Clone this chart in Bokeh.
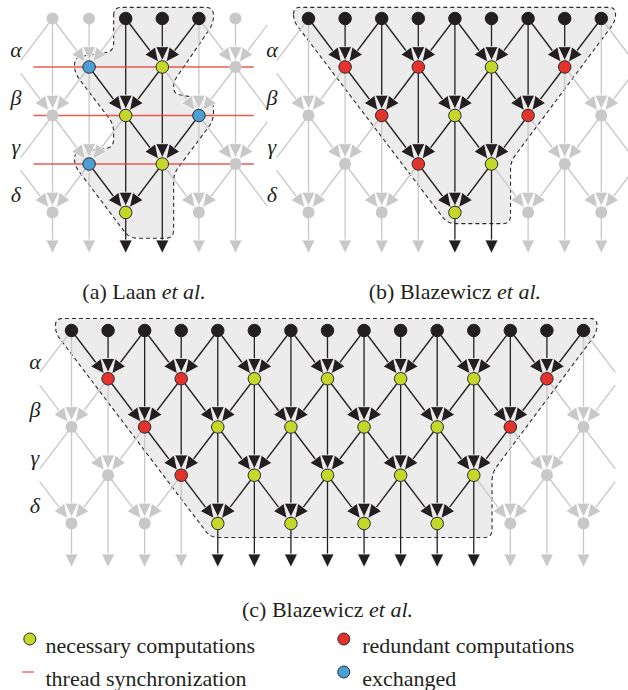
import numpy as np
from bokeh.plotting import figure
from bokeh.models import Range1d
from bokeh.embed import file_html
from bokeh.resources import INLINE
from bokeh.core.properties import value

# ---------------- data ----------------
STAGE_LABELS = ["α", "β", "γ", "δ"]

# K = input value, N = necessary computation, R = redundant computation,
# E = exchanged value, - = not used by the thread (grey)
# row 0 lists every column; rows 1-4 list only the columns of that row's lattice
A_NODES = ["--KKK-", "EN-", "-NE", "EN-", "-N-"]
A_OUTPUTS = "--XX--"
A_SYNC_ROWS = [1, 2, 3]

B_NODES = ["KKKKKKKKK", "RRNR", "-RNR-", "-RN-", "--N--"]
B_OUTPUTS = "----XX---"
B_SYNC_ROWS = []

C_NODES = ["KKKKKKKKKKKKKKK", "RRNNNNR", "-RNNNNR-", "-RNNNN-", "--NNNN--"]
C_OUTPUTS = "----XXXXXXXX---"
C_SYNC_ROWS = []

CAPTIONS = [("(a) Laan ", "et al."), ("(b) Blazewicz ", "et al."), ("(c) Blazewicz ", "et al.")]

LEGEND_LABELS = ["necessary computations", "redundant computations",
                 "thread synchronization", "exchanged"]
LEGEND_KINDS = ["N", "R", "S", "E"]

# ---------------- style / layout ----------------
COLORS = {"K": "#231f20", "N": "#c5d82a", "R": "#e3332c", "E": "#4b9fd6", "-": "#c8c8c8"}
GRAY = "#c8c8c8"
BLACK = "#231f20"
SYNC = "#e8473f"
FILL = "#ececec"
TXT = "#231f20"
FONT = "Liberation Serif"
FS = 22

# shaded regions in lattice units (column, row)
A_REGION = [(1.67, -0.23), (4.4, -0.23), (4.4, 0.1), (3.31, 1.3), (3.31, 1.55), (4.4, 1.7),
            (4.4, 2.1), (3.31, 3.2), (3.31, 4.53), (2.1, 4.53), (0.6, 3.03), (0.6, 2.76),
            (1.67, 2.66), (1.67, 2.18), (0.6, 1.12), (0.6, 0.8), (1.67, 0.68)]
B_REGION = [(-0.41, -0.23), (8.39, -0.23), (8.39, 0.05), (5.52, 2.95), (5.52, 4.23),
            (3.8, 4.23), (-0.41, 0.05)]
C_REGION = [(-0.44, -0.25), (14.37, -0.25), (14.37, 0.04), (11.5, 2.95), (11.5, 4.29),
            (3.8, 4.29), (-0.44, 0.05)]

PANELS = [
    dict(nodes=A_NODES, outputs=A_OUTPUTS, sync=A_SYNC_ROWS, region=A_REGION, cap=CAPTIONS[0],
         x0=52.0, y0=18.0, dx=36.6, dy=48.5, y_out=253.0, cap_y=291.0),
    dict(nodes=B_NODES, outputs=B_OUTPUTS, sync=B_SYNC_ROWS, region=B_REGION, cap=CAPTIONS[1],
         x0=308.0, y0=18.0, dx=36.6, dy=48.5, y_out=253.0, cap_y=291.0),
    dict(nodes=C_NODES, outputs=C_OUTPUTS, sync=C_SYNC_ROWS, region=C_REGION, cap=CAPTIONS[2],
         x0=71.0, y0=330.0, dx=36.57, dy=48.25, y_out=567.0, cap_y=609.0),
]

R_TIP = 6.3     # distance of arrow tip from node centre
HL, HW = 14.0, 6.6
HL_OUT, HW_OUT = 13.5, 6.6
PARTIAL = 0.87

REG_W = {'(': .333, ')': .333, ' ': .25, 'a': .444, 'b': .5, 'c': .444, 'L': .611, 'n': .5,
         'B': .667, 'l': .278, 'z': .444, 'e': .444, 'w': .722, 'i': .278}
IT_W = {'e': .444, 't': .278, ' ': .25, 'a': .5, 'l': .278, '.': .25}


def tw(s, table):
    return sum(table.get(ch, .5) for ch in s) * FS


def rounded(pts, rad=8.0, n=7):
    out = []
    m = len(pts)
    for i in range(m):
        p0 = np.array(pts[i - 1], float)
        p1 = np.array(pts[i], float)
        p2 = np.array(pts[(i + 1) % m], float)
        v1, v2 = p0 - p1, p2 - p1
        l1, l2 = np.hypot(*v1), np.hypot(*v2)
        d = min(rad, l1 / 2, l2 / 2)
        a = p1 + v1 / l1 * d
        b = p1 + v2 / l2 * d
        for t in np.linspace(0, 1, n):
            out.append((1 - t) ** 2 * a + 2 * (1 - t) * t * p1 + t ** 2 * b)
    return [q[0] for q in out], [q[1] for q in out]


def head(tip, u, hl, hw):
    base = tip - u * hl
    nv = np.array([-u[1], u[0]])
    c1 = base + nv * hw
    c2 = base - nv * hw
    return [tip[0], c1[0], c2[0]], [tip[1], c1[1], c2[1]], base


layers = {k: {"lx": [], "ly": [], "hx": [], "hy": []} for k in ("g", "k")}
regions_x, regions_y = [], []
sync_x, sync_y = [], []
nodes_by_cat = {k: ([], []) for k in COLORS}
labels_x, labels_y, labels_t = [], [], []
cap_reg = ([], [], [])
cap_it = ([], [], [])

for P in PANELS:
    nodes = P["nodes"]
    N = len(nodes[0])
    nrows = len(nodes)
    x0, y0, dx, dy = P["x0"], P["y0"], P["dx"], P["dy"]

    def pos(c, r):
        return np.array([x0 + c * dx, y0 + r * dy])

    grid = {}
    for r, row in enumerate(nodes):
        cols = list(range(N)) if r == 0 else [c for c in range(N) if (c + r) % 2 == 0]
        for c, ch in zip(cols, row):
            grid[(c, r)] = ch
    virtual = set()
    for c in (-1, N):
        for r in range(nrows):
            if r == 0 or (c + r) % 2 == 0:
                virtual.add((c, r))

    edges = []
    for (c, r) in list(grid.keys()) + list(virtual):
        if r >= nrows - 1:
            continue
        for dcol in (-1, 1):
            t = (c + dcol, r + 1)
            if t in grid or t in virtual:
                if (c, r) in virtual and t in virtual:
                    continue
                edges.append(((c, r), t))
    for c in range(N):
        rows = sorted(r for (cc, r) in grid if cc == c)
        for a, b in zip(rows, rows[1:]):
            edges.append(((c, a), (c, b)))

    for s_id, t_id in edges:
        s = pos(*s_id)
        t = pos(*t_id)
        if s_id in virtual:
            s = s + (1 - PARTIAL) * (t - s)
        if t_id in virtual:
            e = pos(*s_id) + PARTIAL * (t - pos(*s_id))
            L = layers["g"]
            L["lx"].append([s[0], e[0]])
            L["ly"].append([s[1], e[1]])
            continue
        key = "k" if grid[t_id] in "NR" else "g"
        L = layers[key]
        u = (t - s) / np.hypot(*(t - s))
        hx, hy, base = head(t - u * R_TIP, u, HL, HW)
        L["lx"].append([s[0], t[0]])
        L["ly"].append([s[1], t[1]])
        L["hx"].append(hx)
        L["hy"].append(hy)

    # outputs
    for c in range(N):
        last = max(r for (cc, r) in grid if cc == c)
        s = pos(c, last)
        tip = np.array([s[0], P["y_out"]])
        key = "k" if P["outputs"][c] == "X" else "g"
        L = layers[key]
        hx, hy, base = head(tip, np.array([0.0, 1.0]), HL_OUT, HW_OUT)
        L["lx"].append([s[0], base[0]])
        L["ly"].append([s[1], base[1] + 1])
        L["hx"].append(hx)
        L["hy"].append(hy)

    for (c, r), ch in grid.items():
        q = pos(c, r)
        nodes_by_cat[ch][0].append(q[0])
        nodes_by_cat[ch][1].append(q[1])

    for r in P["sync"]:
        a = pos(-0.52, r)
        b = pos(N - 0.5, r)
        sync_x.append([a[0], b[0]])
        sync_y.append([a[1], b[1]])

    reg = [tuple(pos(c, r)) for c, r in P["region"]]
    rx, ry = rounded(reg)
    regions_x.append(rx)
    regions_y.append(ry)

    for i, lab in enumerate(STAGE_LABELS):
        q = pos(-1, i + 0.5)
        labels_x.append(q[0])
        labels_y.append(q[1] + 6.5)
        labels_t.append(lab)

    reg_txt, it_txt = P["cap"]
    wr, wi = tw(reg_txt, REG_W), tw(it_txt, IT_W)
    cx = x0 + (N - 1) / 2 * dx
    start = cx - (wr + wi) / 2
    cap_reg[0].append(start); cap_reg[1].append(P["cap_y"]); cap_reg[2].append(reg_txt)
    cap_it[0].append(start + wr); cap_it[1].append(P["cap_y"]); cap_it[2].append(it_txt)

# ---------------- figure ----------------
# data units are the reference picture's pixels (Bokeh's page template has no body margin)
p = figure(width=628, height=690, x_range=Range1d(0, 628), y_range=Range1d(690, 0),
           output_backend="svg", toolbar_location=None, min_border=0,
           x_axis_location=None, y_axis_location=None)
p.grid.visible = False
p.outline_line_color = None
p.background_fill_color = "white"
p.border_fill_color = "white"

p.patches(regions_x, regions_y, fill_color=FILL, line_color="#2b2b2b", line_width=1.1,
          line_dash="4 3")

for key, col in (("g", GRAY), ("k", BLACK)):
    L = layers[key]
    p.multi_line(L["lx"], L["ly"], line_color=col, line_width=1.3)
    p.patches(L["hx"], L["hy"], fill_color=col, line_color="white", line_width=0.8)

if sync_x:
    p.multi_line(sync_x, sync_y, line_color=SYNC, line_width=1.4, line_alpha=0.9)

gx, gy = nodes_by_cat["-"]
p.scatter(gx, gy, size=12, fill_color=GRAY, line_color=None)
kx, ky = nodes_by_cat["K"]
p.scatter(kx, ky, size=12.5, fill_color=BLACK, line_color=BLACK)
for cat in "NRE":
    xs, ys = nodes_by_cat[cat]
    if xs:
        p.scatter(xs, ys, size=12.5, fill_color=COLORS[cat], line_color="#2b2b2b", line_width=1)

p.text(labels_x, labels_y, text=labels_t, text_font=value(FONT), text_font_size=f"{FS}px",
       text_font_style="italic", text_align="center", text_baseline="alphabetic", text_color=TXT)
p.text(cap_reg[0], cap_reg[1], text=cap_reg[2], text_font=value(FONT), text_font_size=f"{FS}px",
       text_align="left", text_baseline="alphabetic", text_color=TXT)
p.text(cap_it[0], cap_it[1], text=cap_it[2], text_font=value(FONT), text_font_size=f"{FS}px",
       text_font_style="italic", text_align="left", text_baseline="alphabetic", text_color=TXT)

# legend
LEG_MX = [29.3, 343.3, 29.3, 343.3]
LEG_MY = [638.5, 638.5, 671.5, 671.5]
LEG_TX = [45.0, 361.7, 45.0, 361.7]
LEG_TY = [645.0, 645.0, 678.0, 678.0]
for kind, mx, my in zip(LEGEND_KINDS, LEG_MX, LEG_MY):
    if kind == "S":
        p.line([mx - 7.5, mx + 4.0], [my, my], line_color="#ef6a6a", line_width=1.5)
    else:
        p.scatter([mx], [my], size=12, fill_color=COLORS[kind], line_color="#2b2b2b", line_width=1)
p.text(LEG_TX, LEG_TY, text=LEGEND_LABELS, text_font=value(FONT), text_font_size=f"{FS}px",
       text_align="left", text_baseline="alphabetic", text_color=TXT)

open("out.html", "w").write(file_html(p, INLINE))
